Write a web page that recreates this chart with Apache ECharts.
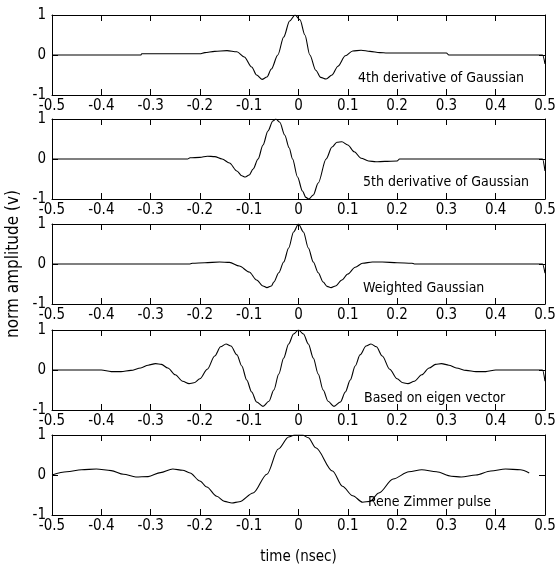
<!DOCTYPE html>
<html><head><meta charset="utf-8">
<script src="https://cdn.jsdelivr.net/npm/echarts@6/dist/echarts.min.js"></script>
<style>html,body{margin:0;padding:0;background:#fff}#c{width:556px;height:569px}</style>
</head><body><div id="c"></div>
<script>
// ---- data (time in nsec, normalised amplitude) ----
const titles = ['4th derivative of Gaussian', '5th derivative of Gaussian', 'Weighted Gaussian', 'Based on eigen vector', 'Rene Zimmer pulse'];
const xAxisName = 'time (nsec)';
const yAxisName = 'norm amplitude (v)';
const xMin = -0.5, xMax = 0.5, xStep = 0.1;
const yMin = -1, yMax = 1, yStep = 1;

const gauss4 = [[-0.5,0],[-0.32,0],[-0.318,0.03],[-0.2,0.03],[-0.19,0.06],[-0.17,0.09],[-0.145,0.11],[-0.125,0.08],[-0.11,-0.05],[-0.095,-0.3],[-0.085,-0.5],[-0.074,-0.61],[-0.064,-0.55],[-0.055,-0.35],[-0.042,0],[-0.03,0.45],[-0.018,0.85],[-0.007,1.0],[0.003,0.88],[0.013,0.5],[0.023,0],[0.035,-0.38],[0.045,-0.56],[0.056,-0.6],[0.068,-0.5],[0.08,-0.28],[0.095,-0.02],[0.11,0.1],[0.127,0.12],[0.145,0.09],[0.165,0.06],[0.18,0.05],[0.3,0.05],[0.305,0],[0.495,0],[0.5,-0.22]];

const gauss5 = [[-0.5,0],[-0.225,0],[-0.22,0.03],[-0.2,0.04],[-0.185,0.07],[-0.17,0.06],[-0.155,0.0],[-0.14,-0.1],[-0.125,-0.3],[-0.115,-0.42],[-0.108,-0.45],[-0.1,-0.4],[-0.092,-0.25],[-0.082,0],[-0.072,0.35],[-0.062,0.7],[-0.052,0.95],[-0.046,1.0],[-0.038,0.92],[-0.028,0.6],[-0.019,0.28],[-0.012,0],[-0.002,-0.45],[0.008,-0.8],[0.015,-0.96],[0.021,-1.0],[0.03,-0.9],[0.04,-0.6],[0.056,0],[0.068,0.3],[0.078,0.42],[0.088,0.43],[0.1,0.35],[0.113,0.18],[0.127,0.02],[0.142,-0.05],[0.157,-0.07],[0.175,-0.06],[0.2,-0.05],[0.205,0],[0.495,0],[0.5,-0.3]];

const weighted = [[-0.5,0],[-0.22,0],[-0.215,0.02],[-0.19,0.03],[-0.16,0.05],[-0.14,0.04],[-0.12,-0.05],[-0.1,-0.2],[-0.085,-0.4],[-0.072,-0.55],[-0.064,-0.59],[-0.055,-0.55],[-0.05,-0.45],[-0.04,-0.22],[-0.03,0.05],[-0.02,0.4],[-0.01,0.8],[0,1.0],[0.01,0.8],[0.02,0.4],[0.03,0.05],[0.04,-0.22],[0.05,-0.45],[0.058,-0.56],[0.066,-0.59],[0.075,-0.55],[0.088,-0.4],[0.1,-0.25],[0.115,-0.08],[0.13,0.02],[0.15,0.05],[0.17,0.05],[0.2,0.03],[0.23,0.02],[0.235,0],[0.495,0],[0.5,-0.23]];

const eigen = [[-0.5,0],[-0.4,0],[-0.38,-0.04],[-0.36,-0.04],[-0.34,-0.01],[-0.32,0.05],[-0.305,0.12],[-0.29,0.16],[-0.278,0.14],[-0.265,0.05],[-0.25,-0.12],[-0.235,-0.28],[-0.222,-0.34],[-0.212,-0.32],[-0.2,-0.22],[-0.185,0.02],[-0.17,0.35],[-0.158,0.58],[-0.147,0.65],[-0.137,0.6],[-0.125,0.38],[-0.115,0.1],[-0.105,-0.25],[-0.095,-0.55],[-0.085,-0.8],[-0.072,-0.91],[-0.06,-0.78],[-0.05,-0.5],[-0.04,-0.1],[-0.03,0.3],[-0.02,0.65],[-0.01,0.9],[0,1.0],[0.01,0.9],[0.02,0.65],[0.03,0.3],[0.04,-0.1],[0.05,-0.5],[0.06,-0.78],[0.072,-0.91],[0.085,-0.8],[0.095,-0.55],[0.105,-0.25],[0.115,0.1],[0.125,0.38],[0.137,0.6],[0.147,0.65],[0.158,0.58],[0.17,0.35],[0.185,0.02],[0.2,-0.22],[0.212,-0.32],[0.222,-0.34],[0.235,-0.28],[0.25,-0.12],[0.265,0.05],[0.278,0.14],[0.29,0.16],[0.305,0.12],[0.32,0.05],[0.34,-0.01],[0.36,-0.04],[0.38,-0.04],[0.4,0],[0.495,0],[0.5,-0.28]];

const zimmer = [[-0.5,0],[-0.47,0.08],[-0.44,0.13],[-0.41,0.15],[-0.38,0.11],[-0.355,0.02],[-0.33,-0.05],[-0.305,-0.04],[-0.28,0.06],[-0.255,0.15],[-0.235,0.12],[-0.22,0.05],[-0.2,-0.15],[-0.186,-0.3],[-0.166,-0.53],[-0.15,-0.66],[-0.135,-0.7],[-0.12,-0.67],[-0.092,-0.45],[-0.064,0.02],[-0.041,0.65],[-0.02,0.95],[-0.008,1.0],[0.008,1.0],[0.02,0.93],[0.035,0.68],[0.069,0.1],[0.089,-0.28],[0.11,-0.52],[0.13,-0.68],[0.145,-0.66],[0.163,-0.45],[0.192,-0.1],[0.224,0.08],[0.25,0.13],[0.28,0.08],[0.31,-0.03],[0.33,-0.05],[0.36,0.0],[0.39,0.1],[0.42,0.15],[0.45,0.13],[0.468,0.05]];

const allSeries = [gauss4, gauss5, weighted, eigen, zimmer];

// ---- layout ----
const FONT = "'Liberation Sans Narrow','DejaVu Sans Condensed','Arial Narrow','Liberation Sans',sans-serif";
const tops = [15, 119, 224, 330, 435];
const gridH = 80, gridL = 52, gridR = 11;
const textPos = [[358, 71], [363, 175], [363, 281], [364, 391], [368, 495]];

const fmt = v => { const r = Math.round(v * 10) / 10; return r === 0 ? '0' : String(r); };
const black = '#000';

const grid = [], xAxis = [], yAxis = [], series = [], graphic = [];
allSeries.forEach((d, i) => {
  grid.push({ left: gridL, right: gridR, top: tops[i], height: gridH, show: false,
    containLabel: false, outerBoundsMode: 'none' });
  const xBase = { type: 'value', gridIndex: i, min: xMin, max: xMax, interval: xStep,
    splitLine: { show: false },
    axisLine: { show: true, onZero: false, lineStyle: { color: black, width: 1 } },
    axisTick: { show: true, inside: true, length: 6, lineStyle: { color: black } } };
  xAxis.push(Object.assign({}, xBase, { position: 'bottom',
    axisLabel: { show: true, color: black, fontFamily: FONT, fontSize: 15, margin: 4, formatter: fmt },
    name: i === 4 ? xAxisName : '', nameLocation: 'middle', nameGap: 35,
    nameTextStyle: { color: black, fontFamily: FONT, fontSize: 15 } }));
  xAxis.push(Object.assign({}, xBase, { position: 'top', axisLabel: { show: false } }));
  const yBase = { type: 'value', gridIndex: i, min: yMin, max: yMax, interval: yStep,
    splitLine: { show: false },
    axisLine: { show: true, onZero: false, lineStyle: { color: black, width: 1 } },
    axisTick: { show: true, inside: true, length: 6, lineStyle: { color: black } } };
  yAxis.push(Object.assign({}, yBase, { position: 'left',
    axisLabel: { show: true, color: black, fontFamily: FONT, fontSize: 15, margin: 6, formatter: fmt },
    name: i === 2 ? yAxisName : '', nameLocation: 'middle', nameGap: 30,
    nameTextStyle: { color: black, fontFamily: FONT, fontSize: 17 } }));
  yAxis.push(Object.assign({}, yBase, { position: 'right', axisLabel: { show: false } }));
  series.push({ type: 'line', xAxisIndex: 2 * i, yAxisIndex: 2 * i, data: d,
    showSymbol: false, smooth: 0.3, smoothMonotone: 'x', animation: false,
    lineStyle: { color: black, width: 1.1 } });
  graphic.push({ type: 'text', left: textPos[i][0], top: textPos[i][1], z: 10,
    style: { text: titles[i], fill: black, font: '14px ' + FONT } });
});

const chart = echarts.init(document.getElementById('c'), null, { renderer: 'canvas' });
chart.setOption({ backgroundColor: '#fff', animation: false, grid, xAxis, yAxis, series, graphic });
</script>
</body></html>
